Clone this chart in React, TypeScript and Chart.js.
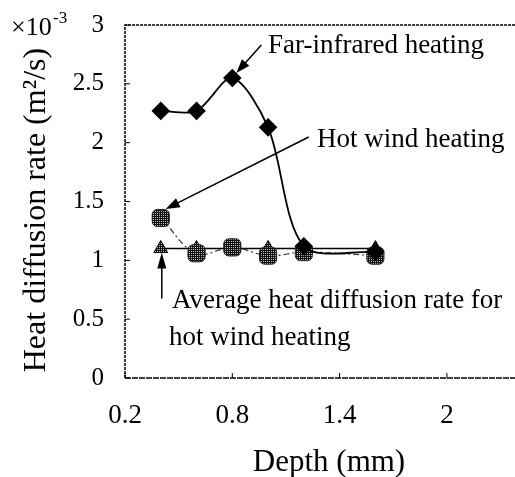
import { useEffect, useRef } from "react";
import { Chart, registerables } from "chart.js";

Chart.register(...registerables);

// ---- data ----
const depthMm = [0.4, 0.6, 0.8, 1.0, 1.2, 1.6];
const farInfrared = [2.27, 2.27, 2.55, 2.13, 1.12, 1.07];
const hotWind = [1.36, 1.06, 1.11, 1.04, 1.07, 1.04];
const averageHotWind = [1.1, 1.1, 1.1, 1.1, 1.1, 1.1];
const xTicks = [0.2, 0.8, 1.4, 2];
const yTicks = [0, 0.5, 1, 1.5, 2, 2.5, 3];
const seriesLabels = [
  "Far-infrared heating",
  "Hot wind heating",
  "Average heat diffusion rate for hot wind heating",
];
const xTitle = "Depth (mm)";
const yTitle = "Heat diffusion rate (m\u00B2/s)";

const FONT = '"Liberation Serif", "Times New Roman", serif';

function makePattern(): CanvasPattern | string {
  const c = document.createElement("canvas");
  c.width = 4;
  c.height = 4;
  const g = c.getContext("2d");
  if (!g) return "#333";
  g.fillStyle = "#111";
  g.fillRect(0, 0, 4, 4);
  g.fillStyle = "#bdbdbd";
  g.fillRect(1, 1, 1, 1);
  g.fillRect(3, 3, 1, 1);
  g.fillRect(3, 1, 1, 1);
  g.fillRect(1, 3, 1, 1);
  const p = g.createPattern(c, "repeat");
  return p || "#333";
}

function arrow(
  ctx: CanvasRenderingContext2D,
  x1: number,
  y1: number,
  x2: number,
  y2: number,
  len = 14,
  half = 5
) {
  const a = Math.atan2(y2 - y1, x2 - x1);
  ctx.beginPath();
  ctx.moveTo(x1, y1);
  ctx.lineTo(x2 - Math.cos(a) * len * 0.6, y2 - Math.sin(a) * len * 0.6);
  ctx.stroke();
  ctx.beginPath();
  ctx.moveTo(x2, y2);
  ctx.lineTo(
    x2 - Math.cos(a) * len - Math.sin(a) * half,
    y2 - Math.sin(a) * len + Math.cos(a) * half
  );
  ctx.lineTo(
    x2 - Math.cos(a) * len + Math.sin(a) * half,
    y2 - Math.sin(a) * len - Math.cos(a) * half
  );
  ctx.closePath();
  ctx.fill();
}

const framePlugin = {
  id: "frameAndNotes",
  afterDatasetsDraw(chart: any) {
    const ctx: CanvasRenderingContext2D = chart.ctx;
    const { left, top, bottom } = chart.chartArea;
    const W = chart.width;
    const xs = chart.scales.x;
    const ys = chart.scales.y;
    ctx.save();
    ctx.strokeStyle = "#000";
    ctx.fillStyle = "#000";
    // frame
    ctx.lineWidth = 1.5;
    ctx.setLineDash([3, 1]);
    ctx.beginPath();
    ctx.moveTo(left, bottom);
    ctx.lineTo(left, top);
    ctx.lineTo(W, top);
    ctx.stroke();
    ctx.setLineDash([6, 1]);
    ctx.beginPath();
    ctx.moveTo(left, bottom);
    ctx.lineTo(W, bottom);
    ctx.stroke();
    ctx.setLineDash([]);
    // inward tick marks
    ctx.lineWidth = 1;
    yTicks.forEach((v) => {
      const y = ys.getPixelForValue(v);
      ctx.beginPath();
      ctx.moveTo(left, y);
      ctx.lineTo(left + 5, y);
      ctx.stroke();
    });
    xTicks.forEach((v) => {
      const x = xs.getPixelForValue(v);
      ctx.beginPath();
      ctx.moveTo(x, bottom);
      ctx.lineTo(x, bottom - 5);
      ctx.stroke();
    });

    // annotations
    ctx.lineWidth = 1.5;
    const pF = { x: xs.getPixelForValue(depthMm[2]), y: ys.getPixelForValue(farInfrared[2]) };
    arrow(ctx, pF.x + 29, pF.y - 33, pF.x + 4, pF.y - 5);
    const pH = { x: xs.getPixelForValue(depthMm[0]), y: ys.getPixelForValue(hotWind[0]) };
    arrow(ctx, pH.x + 148, pH.y - 81, pH.x + 5, pH.y - 9);
    const pA = { x: xs.getPixelForValue(depthMm[0]), y: ys.getPixelForValue(averageHotWind[0]) };
    arrow(ctx, pA.x + 1, pA.y + 50, pA.x + 1, pA.y + 4, 16, 4.5);

    ctx.font = `27px ${FONT}`;
    ctx.textBaseline = "alphabetic";
    ctx.textAlign = "left";
    ctx.fillText(seriesLabels[0], 268, 53);
    ctx.fillText(seriesLabels[1], 317, 147);
    ctx.fillText("Average heat diffusion rate for", 172, 308);
    ctx.fillText("hot wind heating", 169, 345);

    // exponent label
    ctx.font = `26px ${FONT}`;
    ctx.fillText("\u00D710", 11, 35);
    ctx.font = `17px ${FONT}`;
    ctx.fillText("-3", 53, 23);

    // axis titles
    ctx.font = `31px ${FONT}`;
    ctx.textAlign = "center";
    ctx.fillText(xTitle, 329, 471);
    ctx.translate(45, 210);
    ctx.rotate(-Math.PI / 2);
    ctx.font = `32px ${FONT}`;
    ctx.fillText(yTitle, 0, 0);
    ctx.restore();
  },
};

export default function App() {
  const ref = useRef<HTMLCanvasElement | null>(null);
  useEffect(() => {
    if (!ref.current) return;
    const pattern = makePattern();
    const chart = new Chart(ref.current, {
      type: "line",
      data: {
        datasets: [
          {
            label: seriesLabels[0],
            data: depthMm.map((x, i) => ({ x, y: farInfrared[i] })),
            borderColor: "#000",
            borderWidth: 1.8,
            backgroundColor: "#000",
            pointStyle: "rectRot",
            pointRadius: 8,
            pointBackgroundColor: "#000",
            pointBorderColor: "#000",
            tension: 0.3,
            order: 0,
          },
          {
            label: seriesLabels[1],
            data: depthMm.map((x, i) => ({ x, y: hotWind[i] })),
            borderColor: "#333",
            borderWidth: 1.2,
            borderDash: [6, 3, 2, 3],
            pointStyle: "rectRounded",
            pointRadius: 10,
            pointBackgroundColor: pattern as any,
            pointBorderColor: "#222",
            pointBorderWidth: 1,
            tension: 0.4,
            order: 1,
          },
          {
            label: seriesLabels[2],
            data: depthMm.map((x, i) => ({ x, y: averageHotWind[i] })),
            borderColor: "#000",
            borderWidth: 1.5,
            pointStyle: "triangle",
            pointRadius: 8,
            pointBackgroundColor: pattern as any,
            pointBorderColor: "#000",
            pointBorderWidth: 1,
            tension: 0,
            order: 2,
          },
        ],
      },
      options: {
        responsive: false,
        animation: false,
        layout: { autoPadding: false, padding: { top: 25, right: 1, left: 0, bottom: 0 } },
        plugins: {
          legend: { display: false },
          tooltip: { enabled: false },
        },
        scales: {
          x: {
            type: "linear",
            min: 0.2,
            max: 2.375,
            afterBuildTicks: (s: any) => {
              s.ticks = xTicks.map((v) => ({ value: v }));
            },
            afterFit: (s: any) => {
              s.height = 99;
            },
            grid: { display: false, drawTicks: true, tickLength: 22 },
            border: { display: false },
            ticks: {
              padding: 0,
              color: "#000",
              maxRotation: 0,
              autoSkip: false,
              font: { family: FONT, size: 27 },
              callback: (v: any) => String(v),
            },
            title: { display: false },
          },
          y: {
            type: "linear",
            min: 0,
            max: 3,
            afterBuildTicks: (s: any) => {
              s.ticks = yTicks.map((v) => ({ value: v }));
            },
            afterFit: (s: any) => {
              s.width = 125;
            },
            grid: { display: false, drawTicks: true, tickLength: 21 },
            border: { display: false },
            ticks: {
              padding: 0,
              color: "#000",
              font: { family: FONT, size: 25 },
              callback: (v: any) => String(v),
            },
            title: { display: false },
          },
        },
      },
      plugins: [framePlugin],
    });
    return () => chart.destroy();
  }, []);
  return (
    <div style={{ position: "absolute", left: 0, top: 0, width: 515, height: 477, background: "#fff" }}>
      <canvas ref={ref} width={515} height={477} style={{ display: "block" }} />
    </div>
  );
}
